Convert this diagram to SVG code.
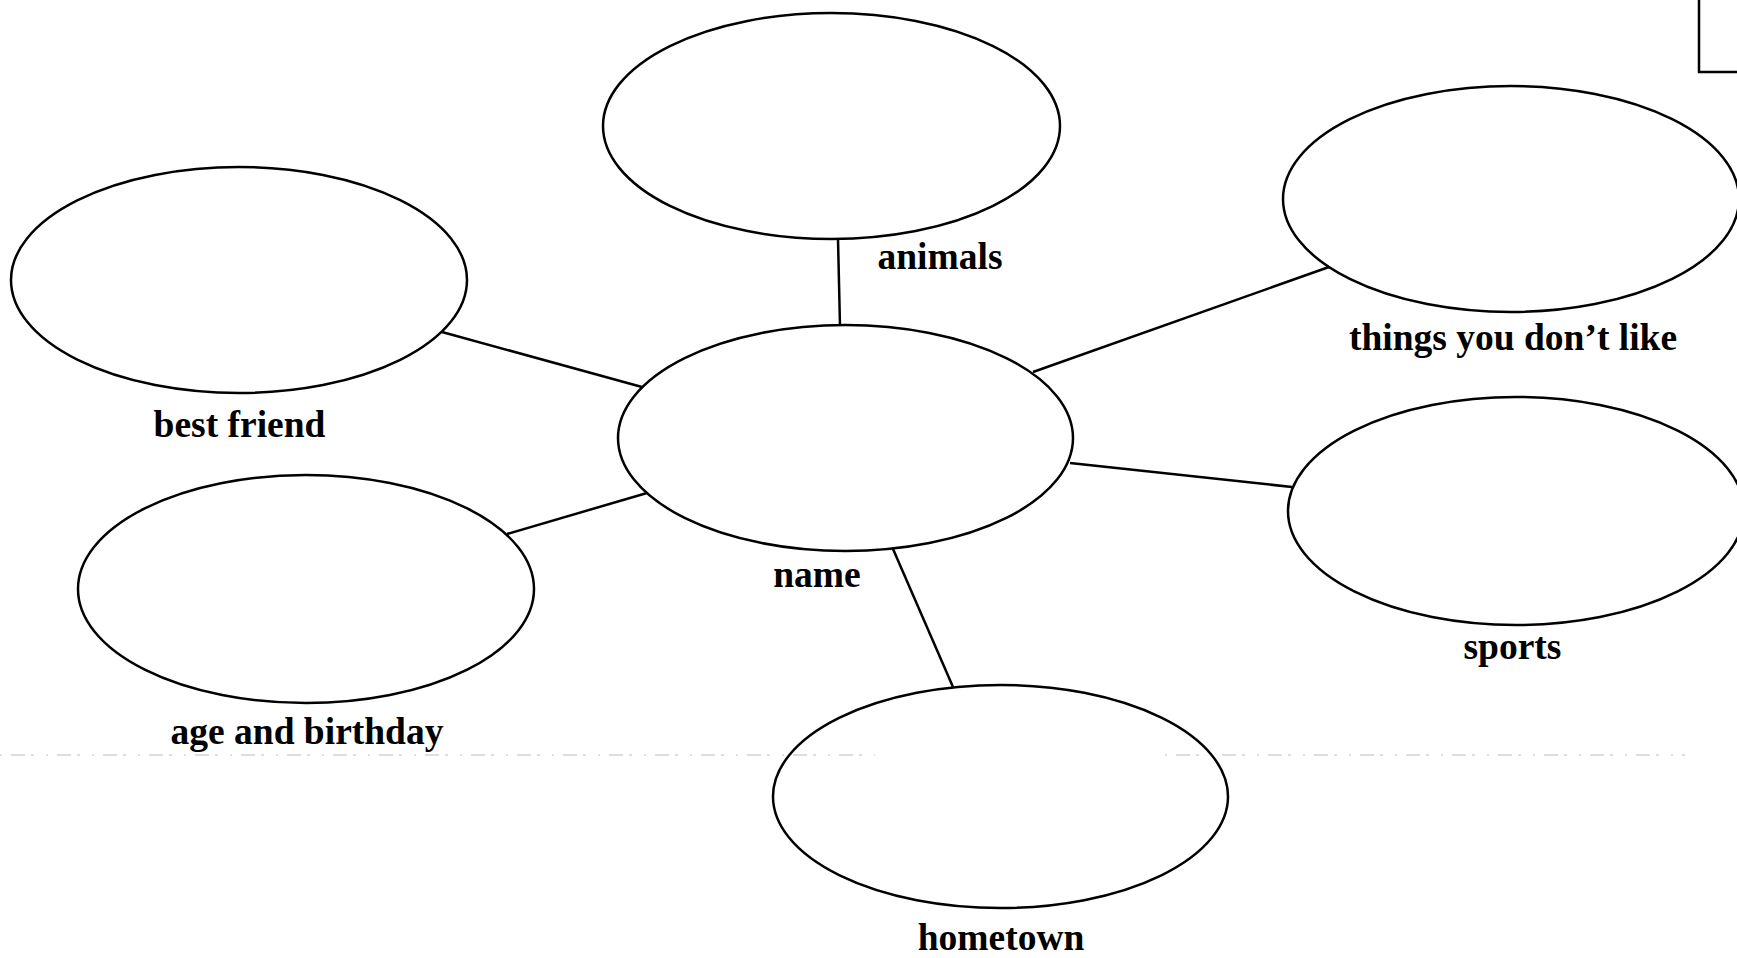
<svg xmlns="http://www.w3.org/2000/svg" width="1737" height="958" viewBox="0 0 1737 958">
<style>
.node ellipse{fill:none;stroke:#000;stroke-width:2.5}
.lbl{font-family:"Liberation Serif","Times New Roman",serif;font-weight:bold;font-size:37.5px;fill:#000;text-anchor:middle}
#connectors line{stroke:#000;stroke-width:2.5}
.scan{stroke:#bbb;stroke-width:1.2;stroke-dasharray:2 9 14 6 3 12}
</style>
<rect x="0" y="0" width="1737" height="958" fill="#fff"/>
<rect x="1699" y="-10" width="60" height="82" fill="none" stroke="#000" stroke-width="2.5"/>
<g id="scanline">
<line class="scan" x1="0" y1="755" x2="875" y2="755"/>
<line class="scan" x1="1165" y1="755" x2="1685" y2="755"/>
</g>
<g id="connectors">
<line x1="838" y1="239" x2="840" y2="326"/>
<line x1="442" y1="332" x2="642" y2="387"/>
<line x1="1033" y1="372" x2="1329" y2="267"/>
<line x1="1070" y1="463" x2="1292" y2="487"/>
<line x1="507" y1="534" x2="647" y2="493"/>
<line x1="893" y1="549" x2="953" y2="687"/>
</g>
<g id="animals" class="node"><ellipse cx="831.5" cy="126" rx="228.5" ry="113"/><text class="lbl" x="940" y="269">animals</text></g>
<g id="best-friend" class="node"><ellipse cx="239" cy="280" rx="228" ry="113"/><text class="lbl" x="239.5" y="437">best friend</text></g>
<g id="things" class="node"><ellipse cx="1511" cy="199" rx="228" ry="113"/><text class="lbl" x="1513" y="350">things you don’t like</text></g>
<g id="name" class="node"><ellipse cx="845.5" cy="438" rx="227.5" ry="113"/><text class="lbl" x="817" y="587">name</text></g>
<g id="age" class="node"><ellipse cx="306" cy="589" rx="228" ry="114"/><text class="lbl" x="307" y="744">age and birthday</text></g>
<g id="sports" class="node"><ellipse cx="1516" cy="511" rx="228" ry="114"/><text class="lbl" x="1512.5" y="659">sports</text></g>
<g id="hometown" class="node"><ellipse cx="1000.5" cy="796.5" rx="227.5" ry="111.5"/><text class="lbl" x="1001" y="950">hometown</text></g>
</svg>
